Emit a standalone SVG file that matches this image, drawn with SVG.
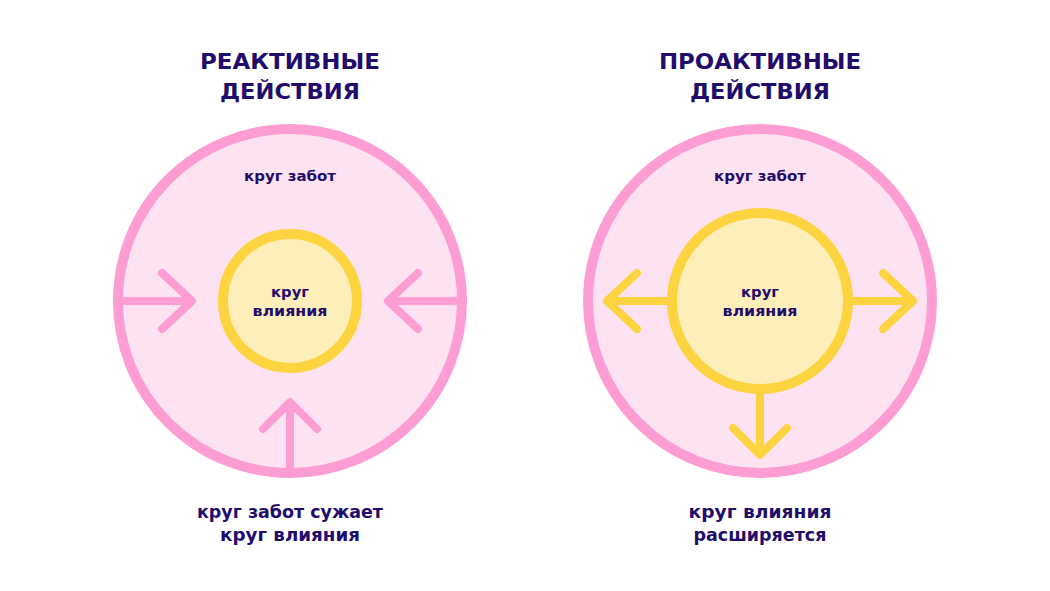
<svg xmlns="http://www.w3.org/2000/svg" width="1050" height="591" viewBox="0 0 1050 591">
<style>
.outer{fill:#fde3f2;stroke:#fd9dd3;stroke-width:10}
.inner{fill:#feeeb9;stroke:#fdd340;stroke-width:10}
.pa{fill:none;stroke:#fd9dd3;stroke-width:8;stroke-linecap:round;stroke-linejoin:round}
.ya{fill:none;stroke:#fdd340;stroke-width:8;stroke-linecap:round;stroke-linejoin:round}
.pl{stroke:#fd9dd3;stroke-width:8}
.yl{stroke:#fdd340;stroke-width:8}
text{font-family:"DejaVu Sans","Open Sans","Liberation Sans",sans-serif;fill:#220c6b;text-anchor:middle}
.title{font-size:22px;font-weight:700}
.lbl{font-size:14px;font-weight:700}
.cap{font-size:17px;font-weight:700}
</style>
<rect width="1050" height="591" fill="#ffffff"/>
<g id="reactive">
<g id="title-left"><text class="title" x="290" y="69" textLength="180" lengthAdjust="spacingAndGlyphs">РЕАКТИВНЫЕ</text><text class="title" x="290" y="99" textLength="140" lengthAdjust="spacingAndGlyphs">ДЕЙСТВИЯ</text></g>
<g id="concern-left"><circle class="outer" cx="290" cy="301" r="172"/><text class="lbl" x="290" y="181" textLength="92" lengthAdjust="spacingAndGlyphs">круг забот</text></g>
<g id="influence-left"><circle class="inner" cx="290" cy="301" r="67"/><text class="lbl" x="290" y="297" textLength="38" lengthAdjust="spacingAndGlyphs">круг</text><text class="lbl" x="290" y="316" textLength="75" lengthAdjust="spacingAndGlyphs">влияния</text></g>
<g id="caption-left"><text class="cap" x="290" y="518" textLength="186" lengthAdjust="spacingAndGlyphs">круг забот сужает</text><text class="cap" x="290" y="541" textLength="140" lengthAdjust="spacingAndGlyphs">круг влияния</text></g>
</g>
<g id="proactive">
<g id="title-right"><text class="title" x="760" y="69" textLength="202" lengthAdjust="spacingAndGlyphs">ПРОАКТИВНЫЕ</text><text class="title" x="760" y="99" textLength="140" lengthAdjust="spacingAndGlyphs">ДЕЙСТВИЯ</text></g>
<g id="concern-right"><circle class="outer" cx="760" cy="301" r="172"/><text class="lbl" x="760" y="181" textLength="92" lengthAdjust="spacingAndGlyphs">круг забот</text></g>
<g id="influence-right"><circle class="inner" cx="760" cy="301" r="88"/><text class="lbl" x="760" y="297" textLength="38" lengthAdjust="spacingAndGlyphs">круг</text><text class="lbl" x="760" y="316" textLength="75" lengthAdjust="spacingAndGlyphs">влияния</text></g>
<g id="caption-right"><text class="cap" x="760" y="518" textLength="143" lengthAdjust="spacingAndGlyphs">круг влияния</text><text class="cap" x="760" y="541" textLength="133" lengthAdjust="spacingAndGlyphs">расширяется</text></g>
</g>
<g id="connectors">
<path class="pl" d="M114 301H190"/><path class="pa" d="M162 273L192 301L162 329"/>
<path class="pl" d="M466 301H390"/><path class="pa" d="M418 273L388 301L418 329"/>
<path class="pl" d="M290 476V404"/><path class="pa" d="M263 429L290 402L317 429"/>
<path class="yl" d="M668 301H609"/><path class="ya" d="M637 273L607 301L637 329"/>
<path class="yl" d="M852 301H911"/><path class="ya" d="M883 273L913 301L883 329"/>
<path class="yl" d="M760 393V453"/><path class="ya" d="M733 428L760 455L787 428"/>
</g>
</svg>
